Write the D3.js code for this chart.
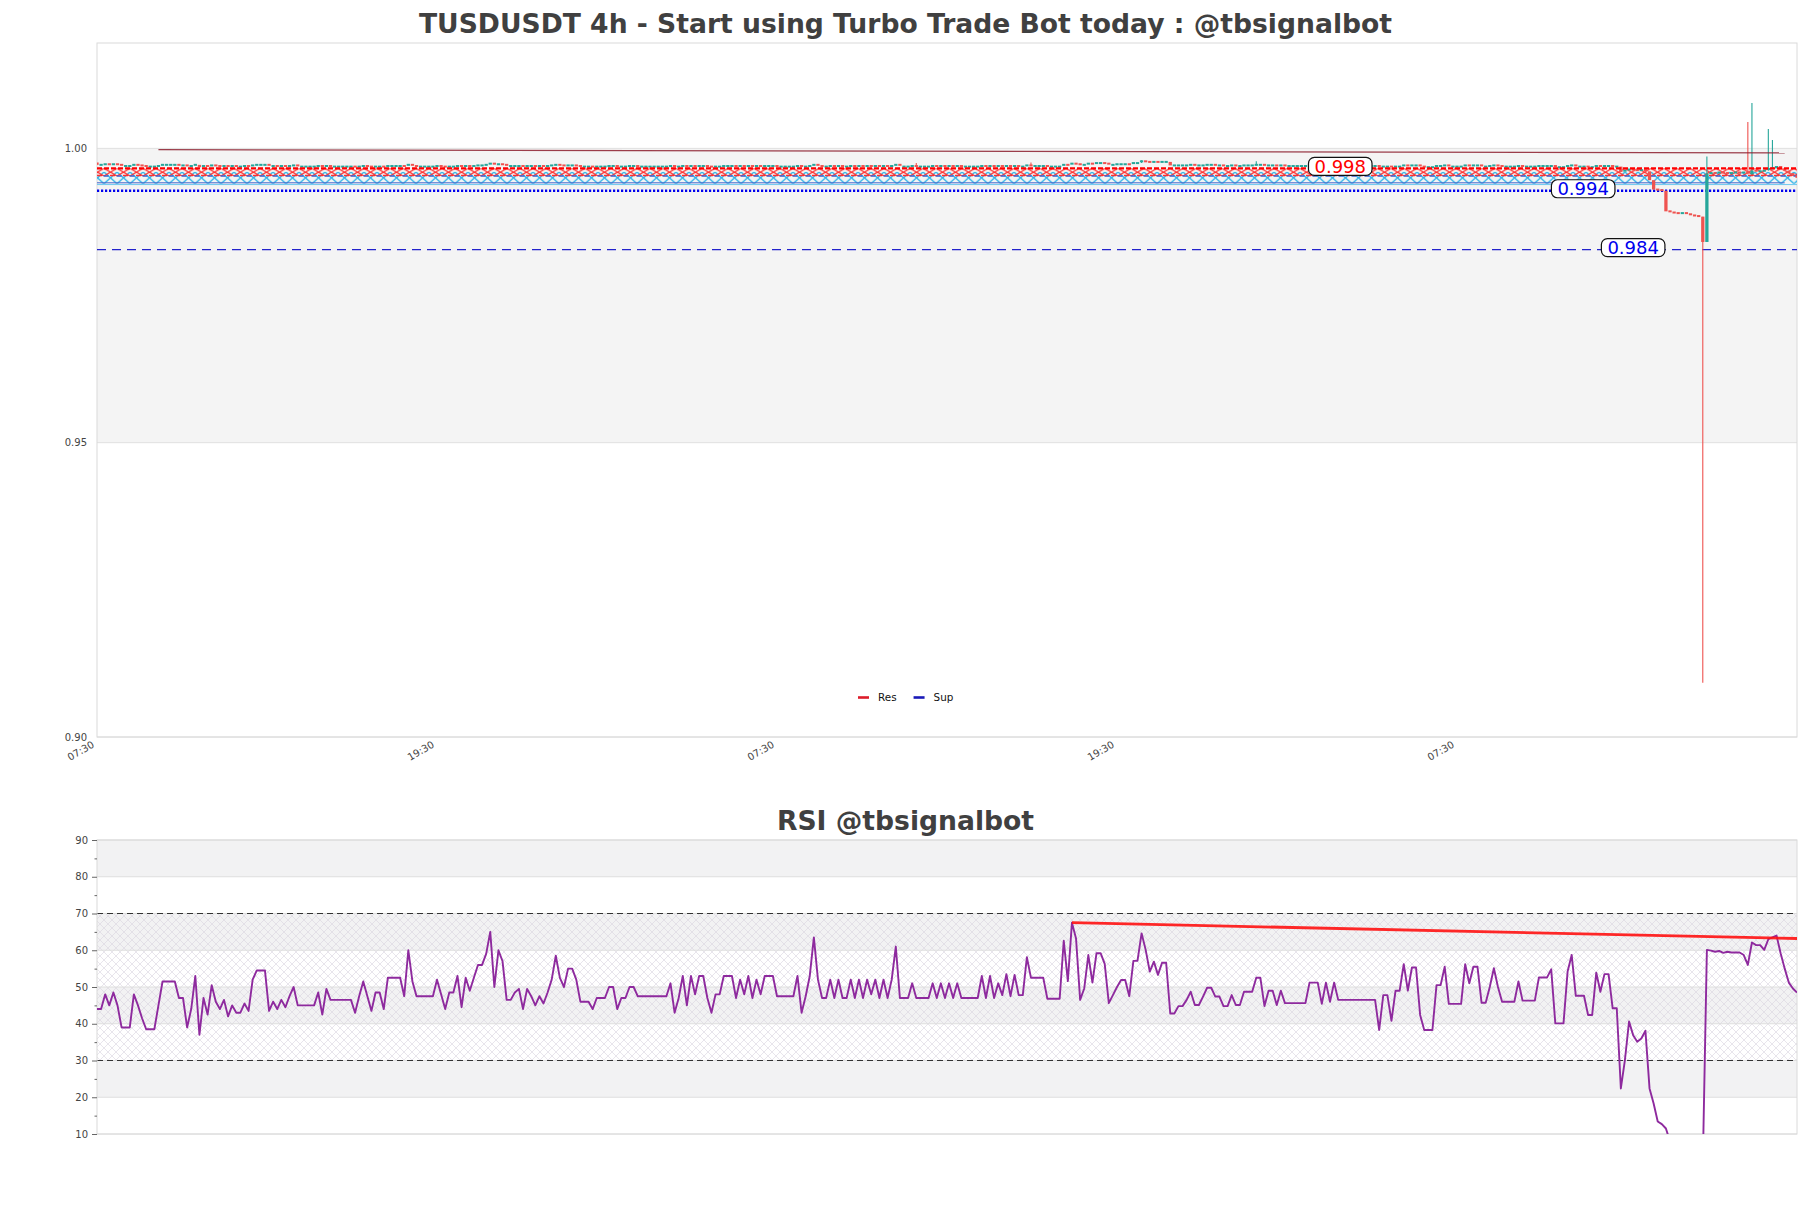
<!DOCTYPE html>
<html><head><meta charset="utf-8">
<script src="https://cdn.jsdelivr.net/npm/d3@7"></script>
<style>
body{margin:0;background:#fff;}
svg{display:block;font-family:"DejaVu Sans",sans-serif;}
</style>
</head><body>
<svg id="chart" width="1811" height="1208"></svg>
<script>
// ---------------- DATA ----------------
const mainTitle = "TUSDUSDT 4h - Start using Turbo Trade Bot today : @tbsignalbot";
const rsiTitle = "RSI @tbsignalbot";
const firstOpen = 0.9976;
const closes = [
.9972,.9972,.9973,.9972,.9973,.9972,.9970,.9970,.9970,.9972,
.9971,.9970,.9969,.9969,.9969,.9970,.9972,.9972,.9972,.9972,
.9971,.9971,.9969,.9970,.9972,.9968,.9970,.9969,.9971,.9970,
.9969,.9970,.9969,.9970,.9969,.9969,.9970,.9969,.9971,.9972,
.9972,.9972,.9969,.9970,.9969,.9970,.9969,.9970,.9971,.9969,
.9969,.9969,.9969,.9969,.9970,.9968,.9970,.9969,.9969,.9969,
.9969,.9969,.9969,.9968,.9969,.9970,.9969,.9968,.9969,.9969,
.9968,.9970,.9970,.9970,.9970,.9969,.9972,.9970,.9969,.9969,
.9969,.9969,.9969,.9970,.9969,.9968,.9969,.9969,.9970,.9968,
.9970,.9969,.9970,.9971,.9971,.9972,.9974,.9971,.9973,.9972,
.9970,.9970,.9970,.9970,.9969,.9970,.9970,.9969,.9970,.9969,
.9970,.9971,.9972,.9971,.9970,.9971,.9971,.9970,.9969,.9969,
.9969,.9968,.9969,.9969,.9969,.9970,.9970,.9968,.9969,.9969,
.9970,.9970,.9969,.9969,.9969,.9969,.9969,.9969,.9969,.9969,
.9970,.9968,.9969,.9970,.9968,.9970,.9969,.9970,.9970,.9969,
.9968,.9969,.9969,.9970,.9970,.9970,.9969,.9970,.9969,.9970,
.9969,.9970,.9969,.9970,.9970,.9970,.9969,.9969,.9969,.9969,
.9969,.9970,.9968,.9969,.9970,.9972,.9970,.9969,.9969,.9970,
.9969,.9970,.9969,.9969,.9970,.9969,.9970,.9969,.9970,.9969,
.9970,.9969,.9970,.9969,.9970,.9972,.9969,.9969,.9969,.9970,
.9969,.9969,.9969,.9969,.9970,.9969,.9970,.9969,.9970,.9969,
.9970,.9969,.9969,.9969,.9969,.9969,.9970,.9969,.9970,.9969,
.9970,.9969,.9970,.9969,.9970,.9969,.9969,.9971,.9970,.9970,
.9970,.9970,.9969,.9969,.9969,.9969,.9972,.9971,.9974,.9973,
.9971,.9972,.9974,.9973,.9975,.9975,.9974,.9972,.9972,.9973,
.9973,.9973,.9972,.9975,.9975,.9978,.9977,.9976,.9977,.9976,
.9977,.9977,.9971,.9971,.9971,.9971,.9971,.9972,.9971,.9971,
.9971,.9972,.9972,.9971,.9971,.9970,.9970,.9971,.9970,.9970,
.9971,.9971,.9971,.9972,.9972,.9970,.9971,.9971,.9970,.9971,
.9970,.9970,.9970,.9970,.9970,.9970,.9971,.9971,.9971,.9970,
.9971,.9970,.9971,.9970,.9970,.9970,.9970,.9970,.9970,.9970,
.9970,.9970,.9970,.9968,.9969,.9969,.9968,.9969,.9969,.9971,
.9970,.9971,.9971,.9969,.9968,.9968,.9968,.9970,.9970,.9971,
.9969,.9969,.9969,.9969,.9971,.9970,.9971,.9971,.9969,.9969,
.9970,.9971,.9970,.9969,.9969,.9969,.9969,.9970,.9969,.9969,
.9969,.9969,.9970,.9970,.9970,.9970,.9968,.9968,.9968,.9970,
.9971,.9969,.9969,.9969,.9968,.9968,.9970,.9969,.9970,.9970,
.9969,.9969,.9960,.9962,.9964,.9963,.9962,.9963,.9961,.9946,
.9930,.9929,.9928,.9893,.9891,.9890,.9889,.9890,.9888,.9886,
.9885,.9884,.9841,.9957,.9958,.9957,.9959,.9958,.9957,.9958,
.9959,.9958,.9959,.9956,.9962,.9960,.9961,.9962,.9965,.9966,
.9970,.9966,.9962,.9958,.9954,.9950];
const wickHigh = [[200,0.9975],[228,0.9976],[255,0.9980],[283,0.9978],[393,0.9986],[403,1.0045],[404,1.0077],[408,1.0033],[409,1.0014]];
const wickLow = [[392,0.9092]];
const rsiValues = [
44,44,48,45,48.5,45,39,39,39,48,
45,41.5,38.5,38.5,38.5,45,51.5,51.5,51.5,51.5,
47,47,39,44,53,37,47,42.5,50.5,46,
44,46.5,42,45,43,43,45.5,43.5,52,54.5,
54.5,54.5,43.5,46,44,46.5,44.5,47.5,50,45,
45,45,45,45,48.5,42.5,49.5,46.5,46.5,46.5,
46.5,46.5,46.5,43,47.5,51.5,47.5,43.5,48.5,48.5,
44,52.5,52.5,52.5,52.5,47.5,60,51.5,47.5,47.5,
47.5,47.5,47.5,52,48,44,48.5,48.5,53,44.5,
52.5,49,52.5,56,56,59,65,50,60,57,
46.5,46.5,48.5,49.5,44,49.5,47.5,45,47.5,45.5,
48.5,52,58.5,52.5,50,55,55,52,46,46,
46,44,47,47,47,50,50,44,47,47,
50,50,47.5,47.5,47.5,47.5,47.5,47.5,47.5,47.5,
51,43,47,53,45,53,48,53,53,47,
43,48,48,53,53,53,47,52,48,53,
47,52,48,53,53,53,47.5,47.5,47.5,47.5,
47.5,53,43,47.5,53,63.5,52,47,47,52,
47,52,47,47,52,47,52,47,52,48,
52,47,52,47,52,61,47,47,47,51,
47,47,47,47,51,47,51,47,51,47,
51,47,47,47,47,47,53,47,53,47,
51,47.8,53.5,47.5,53.3,47.8,47.8,58.1,52.5,52.5,
52.5,52.5,46.8,46.8,46.8,46.8,62.6,51.6,67.5,63.2,
46.5,49.6,58.7,51.2,59.2,59.2,56.3,45.6,47.8,50,
51.9,51.9,47.5,57.1,57.1,64.6,60.1,54.2,56.9,53.3,
56.6,56.6,42.8,42.8,44.8,44.8,46.5,48.7,45.1,45.1,
47.4,49.8,49.8,47.4,47.4,44.8,44.8,47.8,45.1,45.1,
48.7,48.7,48.7,52.5,52.5,44.8,49,49,45.1,49,
45.6,45.6,45.6,45.6,45.6,45.6,51.2,51.2,51.2,45.4,
51.2,46,51.2,46.5,46.5,46.5,46.5,46.5,46.5,46.5,
46.5,46.5,46.5,38.3,47.8,47.8,40.8,49,49,56.2,
49,55.3,55.3,42.4,38.3,38.3,38.3,50.5,50.5,55.5,
45.4,45.4,45.4,45.4,56.2,51,55.5,55.5,45.7,45.7,
50,55.1,50,46,46,46,46,51.5,46.3,46.3,
46.3,46.3,52.6,52.6,52.6,54.8,40.1,40.1,40.1,54.2,
58.7,47.6,47.6,47.6,42.4,42.4,53.9,48.7,53.5,53.5,
44.2,44.2,22.4,30.2,40.6,36.9,35.1,36,38.1,22.4,
18.3,13.4,12.7,11.5,8,6.5,5.5,5,4.5,4,
3.5,3,1.5,60.1,59.9,59.6,59.8,59.3,59.6,59.4,
59.4,59.4,58.7,56,62.1,61.4,61.4,60.1,63,63.5,
64,59.2,55,51.2,49.6,48.5];
const xTickIndex = [0, 83, 166, 249, 332];
const xTickLabels = ["07:30", "19:30", "07:30", "19:30", "07:30"];
const priceDomain = [0.90, 1.0179];
const priceTicks = [0.90, 0.95, 1.00];
const priceBand = [0.95, 1.00];
const rsiDomain = [10, 90];
const rsiTicks = [10, 20, 30, 40, 50, 60, 70, 80, 90];
const rsiMinorTicks = [15, 25, 35, 45, 55, 65, 75, 85];
const rsiGrayBands = [[80, 90], [60, 70], [40, 50], [20, 30]];
const rsiHatchBand = [30, 70];
const rsiLevels = [30, 70];
const resLevel = 0.9966;
const supLevels = [0.9928, 0.9828];
const resZone = [0.9953, 0.9966];
const supZone = [0.9940, 0.9960];
const zoneMidLevel = 0.9954;
const zoneLowLines = [0.99415, 0.99385];
const priceTrend = [[15, 0.99978], [412, 0.99922]];
const rsiTrend = [[238, 67.5], [415, 63.2]];
const levelLabels = [
  {text: "0.998", level: 0.9966, at: 303.5, kind: "res"},
  {text: "0.994", level: 0.9928, at: 362.8, kind: "sup"},
  {text: "0.984", level: 0.9828, at: 375, kind: "sup"}
];
const legendItems = [{name: "Res", kind: "res"}, {name: "Sup", kind: "sup"}];

// ---------------- DRAW ----------------
const svg = d3.select("#chart");
const M = {left: 97, right: 1797, top: 43, bottom: 737};
const R = {left: 97, right: 1797, top: 840, bottom: 1134};
const N = closes.length;
const x = d3.scaleLinear().domain([0, N - 1]).range([M.left, M.right]);
const y = d3.scaleLinear().domain(priceDomain).range([M.bottom, M.top]);
const yr = d3.scaleLinear().domain(rsiDomain).range([R.bottom, R.top]);
const COL = {res: "#ff0000", sup: "#0000ee", up: "#26a69a", down: "#ef5350"};

const defs = svg.append("defs");
defs.append("clipPath").attr("id", "mclip").append("rect")
  .attr("x", M.left).attr("y", M.top).attr("width", M.right - M.left).attr("height", M.bottom - M.top);
defs.append("clipPath").attr("id", "rclip").append("rect")
  .attr("x", R.left).attr("y", R.top).attr("width", R.right - R.left).attr("height", R.bottom - R.top);

function xPattern(id, w, h, color, sw, yOff) {
  const p = defs.append("pattern").attr("id", id).attr("patternUnits", "userSpaceOnUse")
    .attr("width", w).attr("height", h).attr("y", yOff || 0);
  p.append("path").attr("d", `M0,0L${w},${h}M0,${h}L${w},0`)
    .attr("stroke", color).attr("stroke-width", sw).attr("fill", "none");
}
xPattern("hatchRed", 13, y(resZone[0]) - y(resZone[1]), "#ff3030", 1.3, y(resZone[1]));
xPattern("hatchCyan", 13, y(supZone[0]) - y(supZone[1]), "#2fb4e8", 1.3, y(supZone[1]));
xPattern("rsiHatch", 8, 8, "#d9d3df", 0.6, 0);

// ---- titles
svg.append("text").attr("x", 905.5).attr("y", 32.5).attr("text-anchor", "middle")
  .attr("font-size", 26.6).attr("font-weight", "bold").attr("fill", "#404040").text(mainTitle);
svg.append("text").attr("x", 905.5).attr("y", 829.5).attr("text-anchor", "middle")
  .attr("font-size", 26.6).attr("font-weight", "bold").attr("fill", "#404040").text(rsiTitle);

// ---- main panel
const gm = svg.append("g");
gm.append("rect").attr("x", M.left).attr("width", M.right - M.left)
  .attr("y", y(priceBand[1])).attr("height", y(priceBand[0]) - y(priceBand[1])).attr("fill", "#f4f4f4");
gm.selectAll(".pg").data(priceTicks).join("line")
  .attr("x1", M.left).attr("x2", M.right).attr("y1", d => y(d)).attr("y2", d => y(d))
  .attr("stroke", "#e0e0e0").attr("stroke-width", 1);
gm.append("rect").attr("x", M.left).attr("y", M.top).attr("width", M.right - M.left).attr("height", M.bottom - M.top)
  .attr("fill", "none").attr("stroke", "#dadada").attr("stroke-width", 1);

const ya = gm.append("g").attr("transform", `translate(${M.left},0)`)
  .call(d3.axisLeft(y).tickValues(priceTicks).tickFormat(d3.format(".2f")).tickSize(0).tickPadding(10));
ya.select(".domain").remove();
ya.selectAll("text").attr("font-size", 10).attr("fill", "#444").attr("font-family", "DejaVu Sans");

const xa = gm.append("g").attr("transform", `translate(0,${M.bottom})`)
  .call(d3.axisBottom(x).tickValues(xTickIndex).tickFormat((d, i) => xTickLabels[i]).tickSize(0));
xa.select(".domain").remove();
xa.selectAll("text").attr("font-size", 10).attr("fill", "#444").attr("font-family", "DejaVu Sans")
  .attr("text-anchor", "end").attr("x", -7).attr("y", 7).attr("dy", 0).attr("transform", "rotate(-30)");

const gc = gm.append("g").attr("clip-path", "url(#mclip)");
// zones
gc.append("rect").attr("x", M.left).attr("width", M.right - M.left)
  .attr("y", y(supZone[1])).attr("height", y(supZone[0]) - y(supZone[1])).attr("fill", "url(#hatchCyan)");
gc.append("rect").attr("x", M.left).attr("width", M.right - M.left)
  .attr("y", y(resZone[1])).attr("height", y(resZone[0]) - y(resZone[1])).attr("fill", "url(#hatchRed)");
gc.append("line").attr("x1", M.left).attr("x2", M.right).attr("y1", y(zoneMidLevel)).attr("y2", y(zoneMidLevel))
  .attr("stroke", "#ff3030").attr("stroke-width", 1.6).attr("stroke-dasharray", "5,8");
gc.append("line").attr("x1", M.left + 6.5).attr("x2", M.right).attr("y1", y(zoneMidLevel) + 0.5).attr("y2", y(zoneMidLevel) + 0.5)
  .attr("stroke", "#3a5fd0").attr("stroke-width", 1.6).attr("stroke-dasharray", "5,8");
gc.append("line").attr("x1", M.left).attr("x2", x(412)).attr("y1", y(zoneLowLines[0])).attr("y2", y(zoneLowLines[0]))
  .attr("stroke", "#4466cc").attr("stroke-width", 1);
gc.append("line").attr("x1", M.left).attr("x2", M.right).attr("y1", y(zoneLowLines[1])).attr("y2", y(zoneLowLines[1]))
  .attr("stroke", "#6cc8ee").attr("stroke-width", 1);
// support lines
gc.append("line").attr("x1", M.left).attr("x2", M.right).attr("y1", y(supLevels[0])).attr("y2", y(supLevels[0]))
  .attr("stroke", COL.sup).attr("stroke-width", 2.6).attr("stroke-dasharray", "2.2,1.8");
gc.append("line").attr("x1", M.left).attr("x2", M.right).attr("y1", y(supLevels[1])).attr("y2", y(supLevels[1]))
  .attr("stroke", "#2222cc").attr("stroke-width", 1.4).attr("stroke-dasharray", "9,6");

// candles
const opens = closes.map((c, i) => i === 0 ? firstOpen : closes[i - 1]);
const hiMap = new Map(wickHigh), loMap = new Map(wickLow);
const candles = closes.map((c, i) => ({
  i, o: opens[i], c,
  h: hiMap.has(i) ? hiMap.get(i) : Math.max(opens[i], c),
  l: loMap.has(i) ? loMap.get(i) : Math.min(opens[i], c)
}));
const bw = (x(1) - x(0)) * 0.8;
const cg = gc.append("g");
cg.selectAll(".wick").data(candles.filter(d => d.h > Math.max(d.o, d.c) || d.l < Math.min(d.o, d.c))).join("line")
  .attr("x1", d => x(d.i)).attr("x2", d => x(d.i)).attr("y1", d => y(d.h)).attr("y2", d => y(d.l))
  .attr("stroke", d => d.c >= d.o ? COL.up : COL.down).attr("stroke-width", 1.1);
cg.selectAll(".body").data(candles).join("rect")
  .attr("x", d => x(d.i) - bw / 2).attr("width", bw)
  .attr("y", d => y(Math.max(d.o, d.c)) - (Math.abs(y(d.o) - y(d.c)) < 2 ? 1 : 0))
  .attr("height", d => Math.max(2, Math.abs(y(d.o) - y(d.c))))
  .attr("fill", d => d.c >= d.o ? COL.up : COL.down);

// resistance line
gc.append("line").attr("x1", M.left).attr("x2", M.right).attr("y1", y(resLevel)).attr("y2", y(resLevel))
  .attr("stroke", COL.res).attr("stroke-width", 2.4).attr("stroke-dasharray", "5,2");
// trend line
gc.append("line").attr("x1", x(priceTrend[0][0])).attr("x2", x(priceTrend[1][0]))
  .attr("y1", y(priceTrend[0][1])).attr("y2", y(priceTrend[1][1]))
  .attr("stroke", "#8b1c2c").attr("stroke-opacity", 0.85).attr("stroke-width", 1.3);

// level labels
const lg = gm.append("g");
levelLabels.forEach(L => {
  const cx = x(L.at), cy = y(L.level) - 2;
  const t = lg.append("text").attr("x", cx).attr("y", cy).attr("dy", "0.36em")
    .attr("text-anchor", "middle").attr("font-size", 18).attr("fill", COL[L.kind]).text(L.text);
  const bb = t.node().getBBox();
  lg.insert("rect", "text").attr("x", bb.x - 6).attr("y", cy - 9).attr("width", bb.width + 12).attr("height", 18)
    .attr("rx", 6).attr("fill", "#fff").attr("stroke", "#111").attr("stroke-width", 1.2);
});

// legend
const leg = svg.append("g").attr("transform", "translate(858,697.5)");
let lx = 0;
legendItems.forEach(it => {
  leg.append("line").attr("x1", lx).attr("x2", lx + 11).attr("y1", 0).attr("y2", 0)
    .attr("stroke", it.kind === "res" ? "#dd1c2a" : "#1a1ab8").attr("stroke-width", 2.6);
  const t = leg.append("text").attr("x", lx + 20).attr("y", 0).attr("dy", "0.36em")
    .attr("font-size", 10.4).attr("fill", "#111").text(it.name);
  lx += 20 + t.node().getComputedTextLength() + 17;
});

// ---- RSI panel
const gr = svg.append("g");
gr.selectAll(".rb").data(rsiGrayBands).join("rect")
  .attr("x", R.left).attr("width", R.right - R.left)
  .attr("y", d => yr(d[1])).attr("height", d => yr(d[0]) - yr(d[1])).attr("fill", "#f2f2f3");
gr.append("rect").attr("x", R.left).attr("width", R.right - R.left)
  .attr("y", yr(rsiHatchBand[1])).attr("height", yr(rsiHatchBand[0]) - yr(rsiHatchBand[1]))
  .attr("fill", "url(#rsiHatch)");
gr.selectAll(".rg").data(rsiTicks).join("line")
  .attr("x1", R.left).attr("x2", R.right).attr("y1", d => yr(d)).attr("y2", d => yr(d))
  .attr("stroke", "#dedede").attr("stroke-width", 1);
gr.selectAll(".rl").data(rsiLevels).join("line")
  .attr("x1", R.left).attr("x2", R.right).attr("y1", d => yr(d)).attr("y2", d => yr(d))
  .attr("stroke", "#333").attr("stroke-width", 1.2).attr("stroke-dasharray", "6,4");
gr.append("rect").attr("x", R.left).attr("y", R.top).attr("width", R.right - R.left).attr("height", R.bottom - R.top)
  .attr("fill", "none").attr("stroke", "#dadada").attr("stroke-width", 1);

const ra = gr.append("g").attr("transform", `translate(${R.left},0)`)
  .call(d3.axisLeft(yr).tickValues(rsiTicks).tickFormat(d3.format("d")).tickSize(5).tickPadding(4));
ra.select(".domain").remove();
ra.selectAll("line").attr("stroke", "#666");
ra.selectAll("text").attr("font-size", 10).attr("fill", "#444").attr("font-family", "DejaVu Sans");
const rm = gr.append("g").attr("transform", `translate(${R.left},0)`)
  .call(d3.axisLeft(yr).tickValues(rsiMinorTicks).tickFormat("").tickSize(2.5));
rm.select(".domain").remove();
rm.selectAll("line").attr("stroke", "#666");

const rc = gr.append("g").attr("clip-path", "url(#rclip)");
rc.append("path").datum(rsiValues)
  .attr("d", d3.line().x((d, i) => x(i)).y(d => yr(d)))
  .attr("fill", "none").attr("stroke", "#8e2a9e").attr("stroke-width", 1.9).attr("stroke-linejoin", "round");
rc.append("line").attr("x1", x(rsiTrend[0][0])).attr("x2", x(rsiTrend[1][0]))
  .attr("y1", yr(rsiTrend[0][1])).attr("y2", yr(rsiTrend[1][1]))
  .attr("stroke", "#ff1111").attr("stroke-opacity", 0.9).attr("stroke-width", 2.8);
</script>
</body></html>
